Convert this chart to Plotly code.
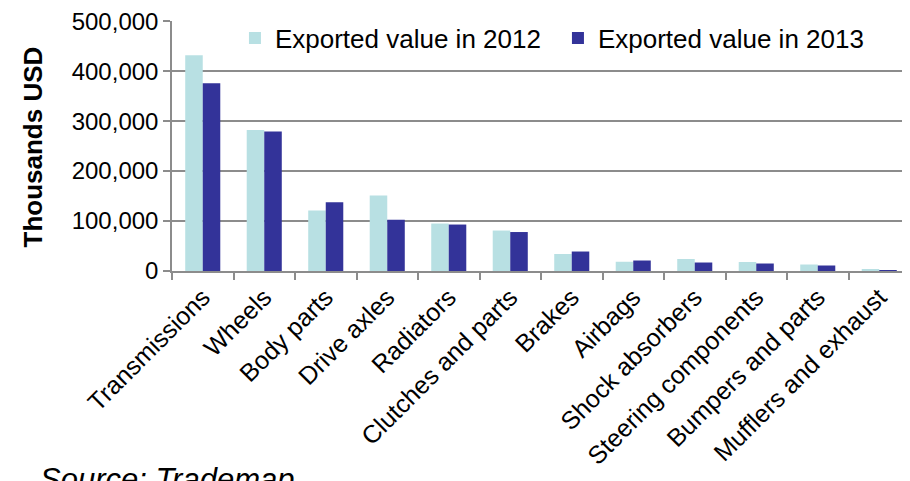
import plotly.graph_objects as go

categories = ["Transmissions", "Wheels", "Body parts", "Drive axles", "Radiators",
              "Clutches and parts", "Brakes", "Airbags", "Shock absorbers",
              "Steering components", "Bumpers and parts", "Mufflers and exhaust"]
values_2012 = [432000, 282000, 121000, 151000, 95000, 81000, 34000, 18500, 24000, 18000, 13000, 3000]
values_2013 = [376000, 279000, 137500, 102500, 93000, 78000, 39000, 21000, 17000, 15000, 11000, 800]
series_names = ["Exported value in 2012", "Exported value in 2013"]
y_ticks = [0, 100000, 200000, 300000, 400000, 500000]

FONT = "Liberation Sans, Arial, sans-serif"
GRID = "#8c8c8c"

fig = go.Figure()
fig.add_trace(go.Bar(x=categories, y=values_2012, name=series_names[0],
                     marker=dict(color="#B8E0E3", line=dict(width=0))))
fig.add_trace(go.Bar(x=categories, y=values_2013, name=series_names[1],
                     marker=dict(color="#333399", line=dict(width=0))))

# page body has an 8px default margin, so the figure is 8px smaller on each axis
fig.update_layout(
    width=902, height=473,
    margin=dict(l=164, r=0, t=11, b=210),
    paper_bgcolor="white", plot_bgcolor="white",
    barmode="group", bargap=0.43, bargroupgap=0,
    font=dict(family=FONT, color="black"),
    showlegend=True,
    legend=dict(orientation="h", x=0.0853, xanchor="left", y=1.0257, yanchor="top",
                font=dict(size=26, family=FONT), bgcolor="rgba(0,0,0,0)",
                entrywidth=278, entrywidthmode="pixels"),
    xaxis=dict(showline=True, linecolor=GRID, linewidth=1.5, ticks="outside",
               tickson="boundaries", ticklen=7, tickcolor=GRID, tickwidth=1.5,
               tickangle=-45, tickfont=dict(size=25, family=FONT, color="black"),
               showgrid=False, ticklabeloverflow="allow"),
    yaxis=dict(range=[0, 500400], tickvals=y_ticks, tickformat=",",
               showline=True, linecolor=GRID, linewidth=1.5, ticks="outside",
               ticklen=7, tickcolor=GRID, tickwidth=1.5,
               showgrid=True, gridcolor=GRID, gridwidth=1.5,
               tickfont=dict(size=24, family=FONT, color="black"),
               zeroline=False, ticklabeloverflow="allow"),
    annotations=[
        dict(text="<b>Thousands USD</b>", textangle=-90, xref="paper", yref="paper",
             x=(32 - 172) / 738, y=0.494, xanchor="center", yanchor="middle",
             showarrow=False, font=dict(size=26, family=FONT, color="black")),
        dict(text="<i>Source: Trademap</i>", xref="paper", yref="paper",
             x=(38 - 172) / 738, y=-0.8346, xanchor="left", yanchor="middle",
             showarrow=False, font=dict(size=31, family=FONT, color="black")),
        dict(text="<b>Exports</b>", xref="paper", yref="paper",
             x=(243 - 172) / 738, y=1.148, xanchor="left", yanchor="middle",
             showarrow=False, font=dict(size=36, family=FONT, color="black")),
    ],
)

fig.write_html("out.html")
